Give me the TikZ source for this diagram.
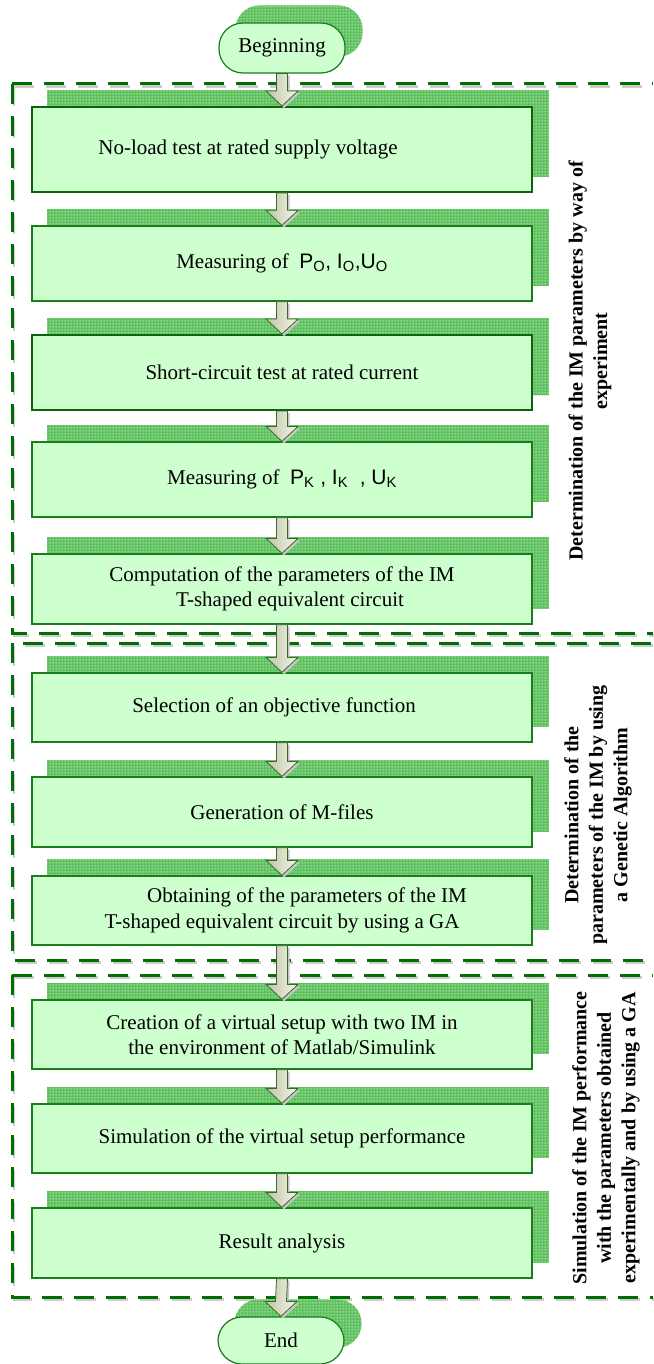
\documentclass[tikz,border=0pt]{standalone}
\usepackage{fontspec}
\setmainfont{Liberation Serif}
\newfontfamily\arialf{Liberation Sans}
\usetikzlibrary{calc,patterns.meta}
\pgfdeclarelayer{paper}
\pgfdeclarelayer{fr}
\pgfdeclarelayer{bg}
\pgfsetlayers{paper,fr,bg,main}
\definecolor{boxfill}{RGB}{206,255,206}
\definecolor{bdgreen}{RGB}{25,125,25}
\definecolor{bdgreenthick}{RGB}{10,100,10}
\definecolor{shgreen}{RGB}{90,190,90}
\definecolor{shline}{RGB}{165,225,165}
\definecolor{frgreen}{RGB}{0,110,0}
\definecolor{arrowL}{RGB}{190,196,165}
\definecolor{arrowR}{RGB}{246,246,234}
\definecolor{arrowline}{RGB}{55,105,45}
\tikzdeclarepattern{
  name=fgrid,
  type=uncolored,
  bounding box={(0pt,0pt) and (2.6pt,2.6pt)},
  tile size={(2.6pt,2.6pt)},
  code={
    \pgfsetlinewidth{0.6pt}
    \pgfpathmoveto{\pgfpoint{0pt}{1.3pt}}\pgfpathlineto{\pgfpoint{2.6pt}{1.3pt}}
    \pgfpathmoveto{\pgfpoint{1.3pt}{0pt}}\pgfpathlineto{\pgfpoint{1.3pt}{2.6pt}}
    \pgfusepath{stroke}
  }
}
\newcommand\bx{\fontsize{21}{25.5}\selectfont}
\newcommand\shad[1]{\path[shadowfill] ($(#1.south west)+(16,-16)$) rectangle ($(#1.north east)+(16,-16)$);}
\newcommand\shadround[1]{\path[shadowfill, rounded corners=24pt] ($(#1.south west)+(17,-17)$) rectangle ($(#1.north east)+(17,-17)$);}
\newcommand\flowarrow[2]{%
  \path[fill=black!22] ($(#1.south)+(-3.5,2)$) -- ($(#2.north)+(-3.5,-13)$) -- ($(#2.north)+(-14,-13)$) -- ($(#2.north)+(2,2)$) -- ($(#2.north)+(18,-13)$) -- ($(#2.north)+(7.5,-13)$) -- ($(#1.south)+(7.5,2)$) -- cycle;
  \path[barrow] ($(#1.south)+(-5.5,0)$) -- ($(#2.north)+(-5.5,-15)$) -- ($(#2.north)+(-16,-15)$) -- (#2.north) -- ($(#2.north)+(16,-15)$) -- ($(#2.north)+(5.5,-15)$) -- ($(#1.south)+(5.5,0)$) -- cycle;}
\tikzset{
  box/.style={draw=bdgreen, line width=1.3pt, fill=boxfill, minimum width=500pt, inner sep=0pt, font=\bx, align=center},
  thickbox/.style={box, line width=2pt, draw=bdgreenthick},
  term/.style={draw=bdgreen, line width=1.2pt, fill=boxfill, minimum width=126pt, minimum height=50pt, rounded corners=24pt, font=\bx, inner sep=0pt},
  shadowfill/.style={fill=shgreen, postaction={pattern=fgrid, pattern color=shline}},
  frame/.style={draw=frgreen, line width=3pt, dash pattern=on 20pt off 12pt},
  frameshadow/.style={draw=black!20, line width=2.5pt, dash pattern=on 20pt off 12pt},
  sidelabel/.style={rotate=90, align=center, font=\fontsize{20}{24.5}\selectfont\bfseries},
  barrow/.style={draw=arrowline, line width=0.8pt, left color=arrowL, right color=arrowR},
}
\begin{document}
\begin{tikzpicture}[x=1pt,y=-1pt]
\useasboundingbox (0,0) rectangle (653,1364);
\begin{pgfonlayer}{paper}
\fill[white] (0,0) rectangle (653,1364);
\end{pgfonlayer}
% frames (their right sides lie beyond the picture)
\begin{pgfonlayer}{fr}
\draw[frameshadow, xshift=2pt, yshift=-2.5pt] (12,84) -- (653,84) (12,84) -- (12,633) -- (653,633);
\draw[frame] (12,84) -- (653,84) (12,84) -- (12,633) -- (653,633);
\draw[frameshadow, xshift=2pt, yshift=-2.5pt] (23,643) -- (653,643) (12,643) -- (12,960) -- (653,960);
\draw[frame] (23,643) -- (653,643) (12,643) -- (12,960) -- (653,960);
\draw[frameshadow, xshift=2pt, yshift=-2.5pt] (12,975) -- (653,975) (12,975) -- (12,1297) -- (653,1297);
\draw[frame] (12,975) -- (653,975) (12,975) -- (12,1297) -- (653,1297);
\end{pgfonlayer}
% nodes
\node[term] (start) at (282,48) {Beginning};
\node[thickbox, minimum height=85pt] (b1) at (282,149.5) {No-load test at rated supply voltage\hspace*{68pt}};
\node[box, minimum height=75pt] (b2) at (282,263.5) {Measuring of \ {\arialf P\textsubscript{O}, I\textsubscript{O},U\textsubscript{O}}};
\node[thickbox, minimum height=75pt] (b3) at (282,372.5) {Short-circuit test at rated current};
\node[box, minimum height=75pt] (b4) at (282,479.5) {Measuring of \ {\arialf P\textsubscript{K} , I\textsubscript{K} \ , U\textsubscript{K}}};
\node[box, minimum height=70pt] (b5) at (282,589) {Computation of the parameters of the IM\\\hspace*{16pt}T-shaped equivalent circuit};
\node[box, minimum height=69pt] (b6) at (282,707.5) {Selection of an objective function\hspace*{16pt}};
\node[box, minimum height=70pt] (b7) at (282,812) {Generation of M-files};
\node[box, minimum height=69pt] (b8) at (282,910.5) {\hspace*{50pt}Obtaining of the parameters of the IM\\T-shaped equivalent circuit by using a GA};
\node[box, minimum height=69pt] (b9) at (282,1034.5) {Creation of a virtual setup with two IM in\\the environment of Matlab/Simulink};
\node[box, minimum height=69pt] (b10) at (282,1138.5) {Simulation of the virtual setup performance};
\node[box, minimum height=70pt] (b11) at (282,1243) {Result analysis};
\node[term, minimum height=47pt] (end) at (281,1340.5) {End};
% shadows
\begin{pgfonlayer}{bg}
\shadround{start}
\foreach \n in {b1,b2,b3,b4,b5,b6,b7,b8,b9,b10,b11}{\shad{\n}}
\shadround{end}
\end{pgfonlayer}
% arrows
\flowarrow{start}{b1}
\flowarrow{b1}{b2}
\flowarrow{b2}{b3}
\flowarrow{b3}{b4}
\flowarrow{b4}{b5}
\flowarrow{b5}{b6}
\flowarrow{b6}{b7}
\flowarrow{b7}{b8}
\flowarrow{b8}{b9}
\flowarrow{b9}{b10}
\flowarrow{b10}{b11}
\flowarrow{b11}{end}
% side labels
\node[sidelabel] (l1) at (590,361) {Determination of the IM parameters by way of\\experiment};
\node[sidelabel] (l2) at (598,815) {Determination of the\\parameters of the IM by using\\a Genetic Algorithm};
\node[sidelabel] (l3) at (606,1138) {Simulation of the IM performance\\with the parameters obtained\\experimentally and by using a GA};
\end{tikzpicture}
\end{document}
